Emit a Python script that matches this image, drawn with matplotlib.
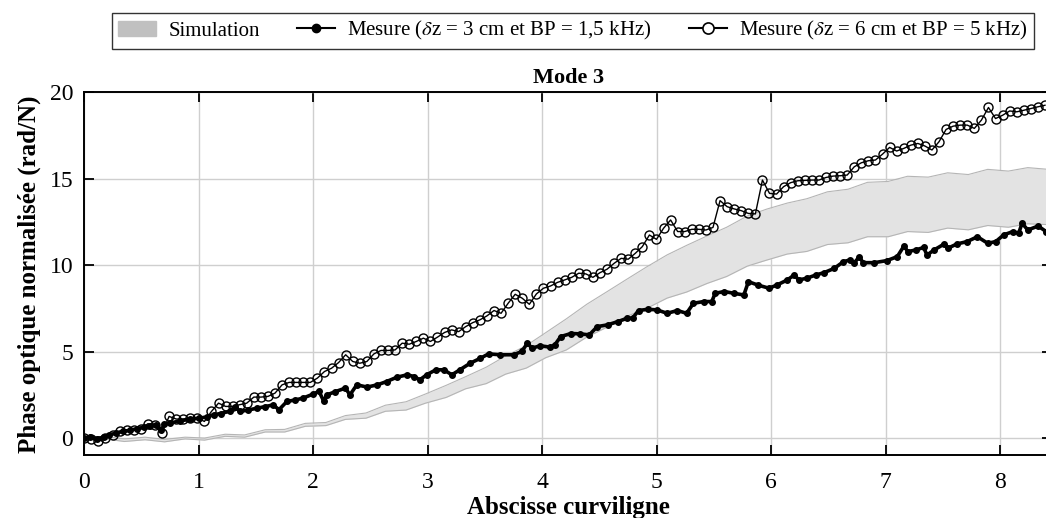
import matplotlib
matplotlib.use("Agg")
import matplotlib.pyplot as plt
from matplotlib.patches import Patch
from matplotlib.lines import Line2D
import numpy as np

plt.rcParams['font.family'] = ['Liberation Serif', 'DejaVu Serif']
plt.rcParams['mathtext.fontset'] = 'stix'

# simulation band (lower / upper edges)
sim_x = [0.00, 0.18, 0.35, 0.53, 0.70, 0.88, 1.05, 1.23, 1.40, 1.58, 1.75, 1.93,
         2.11, 2.28, 2.46, 2.63, 2.81, 2.98, 3.16, 3.33, 3.51, 3.68, 3.86, 4.03,
         4.21, 4.39, 4.56, 4.74, 4.91, 5.09, 5.26, 5.44, 5.61, 5.79, 5.96, 6.14,
         6.31, 6.49, 6.67, 6.84, 7.02, 7.19, 7.37, 7.54, 7.72, 7.89, 8.07, 8.24, 8.42]
sim_low = [0.00, -0.05, -0.20, -0.10, -0.22, -0.05, -0.12, 0.10, 0.05, 0.35, 0.35, 0.68,
           0.72, 1.08, 1.15, 1.55, 1.62, 2.02, 2.35, 2.85, 3.15, 3.70, 4.05, 4.65,
           5.10, 5.85, 6.40, 7.05, 7.50, 8.10, 8.45, 8.95, 9.35, 9.95, 10.30, 10.65,
           10.80, 11.20, 11.30, 11.65, 11.65, 11.95, 11.90, 12.15, 12.05, 12.30, 12.20, 12.40, 12.35]
sim_up = [0.05, 0.10, -0.05, 0.05, -0.08, 0.05, 0.00, 0.22, 0.18, 0.48, 0.50, 0.85,
          0.90, 1.30, 1.45, 1.90, 2.10, 2.55, 3.05, 3.55, 4.10, 4.75, 5.35, 6.10,
          6.90, 7.75, 8.45, 9.20, 9.90, 10.60, 11.15, 11.70, 12.20, 12.85, 13.25, 13.60,
          13.85, 14.25, 14.40, 14.80, 14.85, 15.15, 15.10, 15.35, 15.25, 15.55, 15.45, 15.65, 15.55]

# mesure dz = 3 cm, BP = 1,5 kHz
m1_x = [0.00, 0.05, 0.11, 0.17, 0.22, 0.28, 0.34, 0.40, 0.46, 0.52, 0.57, 0.63, 0.67, 0.70,
        0.75, 0.84, 0.92, 1.00, 1.07, 1.13, 1.19, 1.27, 1.32, 1.36, 1.43, 1.51, 1.58, 1.65,
        1.70, 1.77, 1.84, 1.91, 2.00, 2.05, 2.09, 2.12, 2.19, 2.28, 2.32, 2.38, 2.47, 2.56,
        2.64, 2.73, 2.82, 2.88, 2.93, 2.99, 3.07, 3.14, 3.21, 3.28, 3.37, 3.46, 3.53, 3.63,
        3.75, 3.82, 3.87, 3.91, 3.98, 4.07, 4.11, 4.16, 4.25, 4.33, 4.41, 4.48, 4.57, 4.66,
        4.74, 4.79, 4.84, 4.92, 5.00, 5.09, 5.18, 5.26, 5.32, 5.41, 5.48, 5.51, 5.59, 5.67,
        5.76, 5.80, 5.88, 5.98, 6.05, 6.14, 6.20, 6.24, 6.31, 6.39, 6.46, 6.55, 6.63, 6.69,
        6.72, 6.77, 6.80, 6.90, 7.01, 7.10, 7.16, 7.19, 7.26, 7.33, 7.36, 7.42, 7.51, 7.54,
        7.62, 7.71, 7.80, 7.89, 7.96, 8.03, 8.11, 8.16, 8.19, 8.24, 8.33, 8.40]
m1_y = [0.00, 0.06, -0.06, 0.06, 0.19, 0.29, 0.39, 0.44, 0.55, 0.62, 0.72, 0.75, 0.45, 0.80,
        0.87, 1.00, 1.08, 1.15, 1.22, 1.35, 1.42, 1.55, 1.80, 1.54, 1.62, 1.73, 1.82, 1.92,
        1.64, 2.12, 2.20, 2.31, 2.55, 2.70, 2.15, 2.50, 2.68, 2.89, 2.50, 3.08, 2.95, 3.08,
        3.27, 3.52, 3.66, 3.56, 3.37, 3.66, 3.95, 3.95, 3.66, 3.95, 4.33, 4.62, 4.87, 4.82,
        4.82, 5.01, 5.49, 5.20, 5.34, 5.26, 5.40, 5.87, 6.05, 6.03, 5.97, 6.45, 6.55, 6.74,
        6.93, 6.95, 7.38, 7.45, 7.42, 7.22, 7.38, 7.22, 7.80, 7.90, 7.90, 8.38, 8.48, 8.38,
        8.28, 9.05, 8.86, 8.67, 8.86, 9.15, 9.44, 9.15, 9.25, 9.44, 9.57, 9.82, 10.21, 10.31,
        10.11, 10.50, 10.15, 10.15, 10.27, 10.50, 11.13, 10.79, 10.88, 11.03, 10.59, 10.88, 11.23, 10.98,
        11.23, 11.37, 11.65, 11.27, 11.37, 11.76, 11.95, 11.85, 12.43, 12.04, 12.27, 11.95]

# mesure dz = 6 cm, BP = 5 kHz (regular sampling)
m2_y = [0.00, -0.06, -0.19, 0.00, 0.19, 0.39, 0.48, 0.48, 0.52, 0.83, 0.77, 0.29, 1.25, 1.10,
        1.10, 1.16, 1.16, 0.96, 1.54, 2.02, 1.83, 1.83, 1.93, 2.02, 2.37, 2.37, 2.41, 2.60,
        3.08, 3.22, 3.22, 3.22, 3.22, 3.47, 3.85, 4.04, 4.37, 4.82, 4.43, 4.33, 4.43, 4.87,
        5.07, 5.07, 5.10, 5.49, 5.43, 5.59, 5.78, 5.59, 5.84, 6.11, 6.26, 6.16, 6.45, 6.68,
        6.84, 7.07, 7.38, 7.22, 7.80, 8.32, 8.09, 7.74, 8.34, 8.67, 8.80, 9.01, 9.15, 9.30,
        9.54, 9.50, 9.30, 9.57, 9.77, 10.11, 10.40, 10.35, 10.69, 11.08, 11.75, 11.50, 12.14, 12.62,
        11.95, 11.95, 12.08, 12.08, 12.04, 12.19, 13.74, 13.39, 13.26, 13.16, 13.00, 12.97, 14.93, 14.16,
        14.12, 14.55, 14.78, 14.89, 14.91, 14.93, 14.93, 15.08, 15.16, 15.18, 15.22, 15.70, 15.93, 16.05,
        16.09, 16.43, 16.82, 16.61, 16.76, 16.95, 17.05, 16.90, 16.67, 17.15, 17.86, 18.05, 18.11, 18.11,
        17.92, 18.40, 19.13, 18.49, 18.68, 18.93, 18.88, 18.97, 19.07, 19.17, 19.26]
m2_x = np.linspace(0, 8.39, len(m2_y))

xticks = [0, 1, 2, 3, 4, 5, 6, 7, 8]
yticks = [0, 5, 10, 15, 20]

fig = plt.figure(figsize=(10.46, 5.18), dpi=100)
ax = fig.add_axes([0.0806, 0.121, 0.925, 0.7005])

ax.fill_between(sim_x, sim_low, sim_up, color='#e3e3e3', lw=0, zorder=1)
ax.plot(sim_x, sim_low, color='#b5b5b5', lw=0.8, zorder=2)
ax.plot(sim_x, sim_up, color='#b5b5b5', lw=0.8, zorder=2)

ax.plot(m1_x, m1_y, color='black', lw=2.6, marker='o', ms=4, zorder=4)
ax.plot(m2_x, m2_y, color='black', lw=1.0, marker='o', ms=6.5,
        mfc='none', mec='black', mew=1.0, zorder=5)

ax.set_xlim(0, 8.45)
ax.set_ylim(-1, 20)
ax.set_xticks(xticks)
ax.set_yticks(yticks)
ax.grid(True, color='#cfcfcf', lw=1.0)
ax.set_axisbelow(True)
ax.tick_params(direction='in', length=7, width=1.3, labelsize=17,
               top=True, right=True)
ax.tick_params(axis='x', pad=12)
ax.tick_params(axis='y', pad=8)
for s in ax.spines.values():
    s.set_linewidth(1.4)

ax.set_title('Mode 3', fontsize=16, fontweight='bold', pad=7)
ax.set_xlabel('Abscisse curviligne', fontsize=18, fontweight='bold', labelpad=2)
ax.set_ylabel('Phase optique normalisée (rad/N)', fontsize=18, fontweight='bold', labelpad=6)

handles = [
    Patch(facecolor='#c0c0c0', edgecolor='#c0c0c0'),
    Line2D([], [], color='black', lw=1.5, marker='o', ms=6),
    Line2D([], [], color='black', lw=1.5, marker='o', ms=8, mfc='white', mew=1.2),
]
labels = [
    'Simulation',
    r'Mesure ($\delta$z = 3 cm et BP = 1,5 kHz)',
    r'Mesure ($\delta$z = 6 cm et BP = 5 kHz)',
]
leg = fig.legend(handles, labels, loc='upper center', bbox_to_anchor=(0.548, 0.995),
                 ncol=3, fontsize=15, frameon=True, fancybox=False, edgecolor='black',
                 handlelength=1.8, columnspacing=1.8, borderpad=0.3, handletextpad=0.6)
leg.get_frame().set_linewidth(1.0)

fig.savefig('out.png', dpi=100)
